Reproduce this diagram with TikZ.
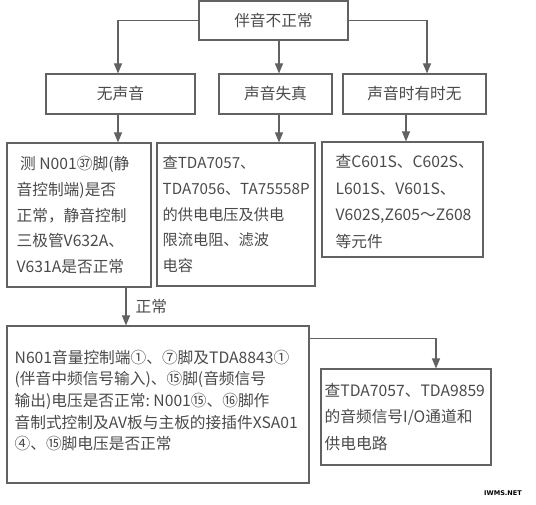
\documentclass[tikz,border=0pt]{standalone}
\usepackage{fontspec}
\setmainfont{Noto Sans CJK SC}
\newfontfamily\wmfont{DejaVu Sans}
\usetikzlibrary{arrows.meta}
\definecolor{ln}{HTML}{626262}
\definecolor{tx}{HTML}{4A4A4A}
\begin{document}
\begin{tikzpicture}[x=1pt,y=-1pt,
  box/.style={draw=ln, line width=1.1pt, rectangle, inner sep=0pt, text=tx, font=\fontsize{15.7}{18}\selectfont},
  txt/.style={text=tx, align=left, inner sep=0pt, anchor=west, font=\fontsize{15.7}{25.7}\selectfont},
  arr/.style={draw=ln, line width=1.1pt, -{Triangle[length=10pt,width=8pt]}},
]
\useasboundingbox (0,0) rectangle (536,505);
% row 1
\node[box, minimum width=149pt, minimum height=39pt] (top) at (273.5,20.5) {伴音不正常};
% row 2
\node[box, minimum width=149pt, minimum height=40pt] (a) at (120.5,94) {无声音};
\node[box, minimum width=113pt, minimum height=40pt] (b) at (275.5,94) {声音失真};
\node[box, minimum width=143pt, minimum height=40pt] (c) at (414.5,94) {声音时有时无};
% row 3
\node[box, minimum width=144pt, minimum height=144pt] (d) at (79,215) {};
\node[txt] (dt) at ([xshift=10pt]d.west) {\ 测 N001㊲脚(静\\音控制端)是否\\正常，静音控制\\三极管V632A、\\V631A是否正常};
\node[box, minimum width=158pt, minimum height=143pt] (e) at (236,214.5) {};
\node[txt, font=\fontsize{15.2}{25.7}\selectfont] (et) at ([xshift=6pt]e.west) {查TDA7057、\\TDA7056、TA75558P\\的供电电压及供电\\限流电阻、滤波\\电容};
\node[box, minimum width=161pt, minimum height=115pt] (f) at (402.5,199.5) {};
\node[txt, font=\fontsize{15.7}{26.7}\selectfont] (ft) at ([xshift=14pt,yshift=-2pt]f.west) {查C601S、C602S、\\L601S、V601S、\\V602S,Z605～Z608\\等元件};
% row 4
\node[box, minimum width=302pt, minimum height=157pt] (g) at (158,404.5) {};
\node[txt, font=\fontsize{15.7}{21.7}\selectfont] (gt) at ([xshift=8pt,yshift=4pt]g.west) {N601音量控制端①、⑦脚及TDA8843①\\(伴音中频信号输入)、⑮脚(音频信号\\输出)电压是否正常:\ N001⑮、⑯脚作\\音制式控制及AV板与主板的接插件XSA01\\④、⑮脚电压是否正常};
\node[box, minimum width=170pt, minimum height=96pt] (h) at (406,417) {};
\node[txt, font=\fontsize{15.7}{26.7}\selectfont] (ht) at ([xshift=4pt]h.west) {查TDA7057、TDA9859\\的音频信号I/O通道和\\供电电路};
% connectors
\draw[arr] (top.west) -| ([xshift=-2.5pt]a.north);
\draw[arr] ([xshift=5.5pt]top.south) -- ([xshift=5.5pt]top.south |- b.north);
\draw[arr] (top.east) -| ([xshift=12.5pt]c.north);
\draw[arr] ([xshift=-2.5pt]a.south) -- ([xshift=-2.5pt]a.south |- d.north);
\draw[arr] ([xshift=3.5pt]b.south) -- ([xshift=3.5pt]b.south |- e.north);
\draw[arr] ([xshift=-8.5pt]c.south) -- ([xshift=-8.5pt]c.south |- f.north);
\draw[arr] ([xshift=47pt]d.south) -- ([xshift=47pt]d.south |- g.north)
  node[midway, right=9pt, text=tx, font=\fontsize{15.7}{18}\selectfont, inner sep=0pt] (lbl) {正常};
\draw[arr] ([yshift=-13pt]g.north east) -| ([xshift=30pt]h.north);
% watermark
\node[font=\wmfont\bfseries\fontsize{6.5}{7}\selectfont, inner sep=0pt] (wm) at (503,493) {IWMS.NET};
\end{tikzpicture}
\end{document}
